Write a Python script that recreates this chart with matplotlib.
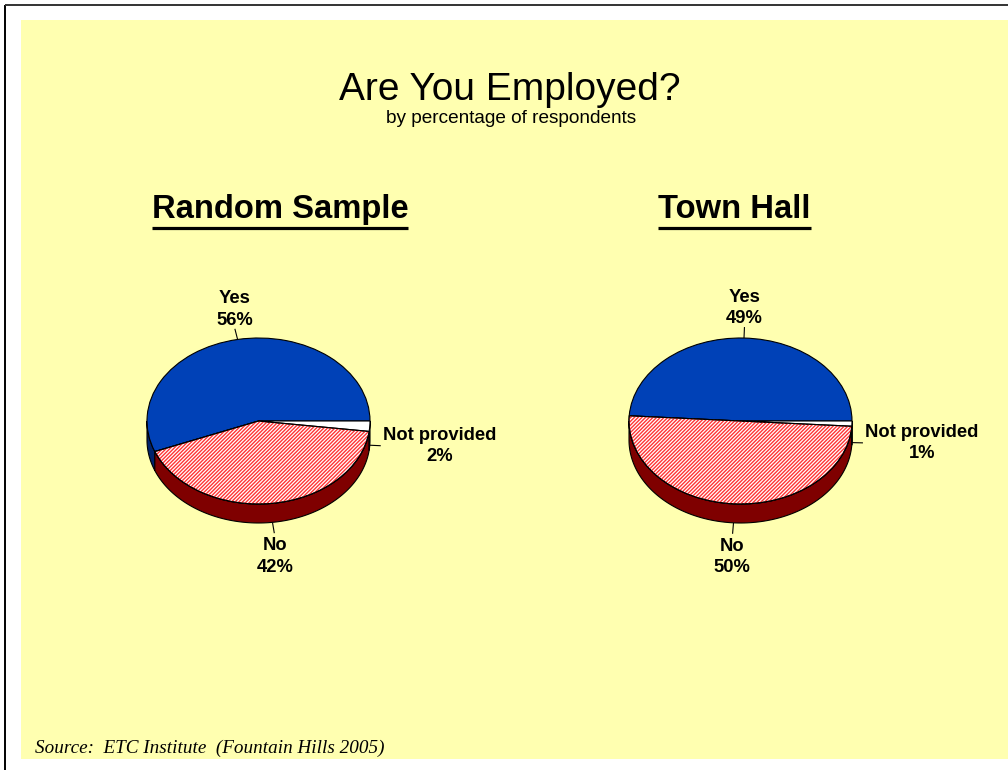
import numpy as np
import matplotlib
matplotlib.use('Agg')
import matplotlib.pyplot as plt
from matplotlib.patches import Polygon, Rectangle, Wedge

# ---------------- data ----------------
categories = ['Yes', 'No', 'Not provided']
random_sample = [56, 42, 2]
town_hall = [49, 50, 1]
panel_titles = ['Random Sample', 'Town Hall']
title = 'Are You Employed?'
subtitle = 'by percentage of respondents'
source = 'Source:  ETC Institute  (Fountain Hills 2005)'

# ---------------- style ----------------
top_colors = ['#0041B7', 'white', 'white']
side_colors = ['#00236C', '#7F0000', 'white']
hatched = [False, True, False]
hatch_red = '#FF3535'
bg_yellow = '#FFFFB0'
plt.rcParams['hatch.linewidth'] = 1.0

W, H = 1008, 770
fig = plt.figure(figsize=(W / 100, H / 100), dpi=100)
fig.patch.set_facecolor('white')

bg = fig.add_axes([0, 0, 1, 1])
bg.set_xlim(0, W)
bg.set_ylim(H, 0)
bg.axis('off')
bg.add_patch(Rectangle((21, 20), W - 21, 739, facecolor=bg_yellow, edgecolor='none'))
bg.plot([5, 5], [5, H], color='black', lw=1.4, solid_capstyle='butt')
bg.plot([5, W], [5, 5], color='#333333', lw=1.4, solid_capstyle='butt')

sans = 'Liberation Sans'
bg.text(510, 100, title, ha='center', va='baseline', fontsize=28, family=sans)
bg.text(511, 123, subtitle, ha='center', va='baseline', fontsize=13.7, family=sans)
bg.text(35, 753, source, ha='left', va='baseline', fontsize=13.8,
        family='Liberation Serif', style='italic')

rx, ry, depth_px = 111.5, 83.0, 19.0
d = depth_px / ry
centers = [(258.5, 421.0), (740.5, 421.0)]
title_x = [280.0, 734.5]
datasets = [random_sample, town_hall]

panel_texts = []
for k, (vals, (cx, cy)) in enumerate(zip(datasets, centers)):
    t = bg.text(title_x[k], 218, panel_titles[k], ha='center', va='baseline',
                fontsize=23.6, fontweight='bold', family=sans)
    panel_texts.append(t)

    left = (cx - 1.25 * rx) / W
    bottom = (H - cy - 1.6 * ry) / H
    ax = fig.add_axes([left, bottom, 2.5 * rx / W, 2.85 * ry / H])
    ax.patch.set_alpha(0)

    # 3D side (front half only)
    total = float(sum(vals))
    angles = np.concatenate([[0], np.cumsum(vals) / total * 360.0])
    for i in range(len(vals)):
        lo = max(angles[i], 180.0)
        hi = min(angles[i + 1], 360.0)
        if hi > lo:
            tt = np.radians(np.linspace(lo, hi, 120))
            top = np.column_stack([np.cos(tt), np.sin(tt)])
            bot = np.column_stack([np.cos(tt), np.sin(tt) - d])[::-1]
            ax.add_patch(Polygon(np.vstack([top, bot]), closed=True,
                                 facecolor=side_colors[i], edgecolor='black',
                                 linewidth=0.8, zorder=1))

    wedges, _ = ax.pie(vals, colors=top_colors, startangle=0, counterclock=True,
                       wedgeprops=dict(edgecolor='black', linewidth=0.8))
    for i, w in enumerate(wedges):
        w.set_zorder(2)
        if hatched[i]:
            ax.add_patch(Wedge(w.center, w.r, w.theta1, w.theta2, facecolor='none',
                               edgecolor=hatch_red, hatch='/////////', linewidth=0,
                               zorder=2.5))
            ax.add_patch(Wedge(w.center, w.r, w.theta1, w.theta2, fill=False,
                               edgecolor='black', linewidth=0.8, zorder=3))

    ax.set_aspect('auto')
    ax.set_xlim(-1.25, 1.25)
    ax.set_ylim(-1.6, 1.25)
    ax.axis('off')

    # labels with leader lines
    for i, w in enumerate(wedges):
        m = np.radians((w.theta1 + w.theta2) / 2.0)
        sx, sy = np.cos(m), np.sin(m)
        if sy < 0:
            sy -= d
        ux, uy = np.cos(m) * rx, np.sin(m) * ry
        n = np.hypot(ux, uy)
        ux, uy = ux / n, uy / n
        L = 11.0
        ex, ey = sx + ux * L / rx, sy + uy * L / ry
        ax.plot([sx, ex], [sy, ey], color='black', lw=0.8, zorder=4,
                solid_capstyle='butt')
        if abs(ux) > 0.7:
            off = 2.0
            ha = 'left' if ux > 0 else 'right'
            va = 'center'
        else:
            off = 4.0 if uy < 0 else 0.0
            ha = 'center'
            va = 'bottom' if uy > 0 else 'top'
        tx, ty = ex + ux * off / rx, ey + uy * off / ry
        ax.text(tx, ty, f'{categories[i]}\n{vals[i]}%', ha=ha, va=va,
                multialignment='center', fontsize=13.2, fontweight='bold',
                family=sans, linespacing=1.35, zorder=5)

# underline panel titles
fig.canvas.draw()
r = fig.canvas.get_renderer()
for t in panel_texts:
    bb = t.get_window_extent(renderer=r)
    bg.plot([bb.x0, bb.x1], [227.5, 227.5], color='black', lw=2.3,
            solid_capstyle='butt')

fig.savefig('out.png', dpi=100, facecolor='white')
